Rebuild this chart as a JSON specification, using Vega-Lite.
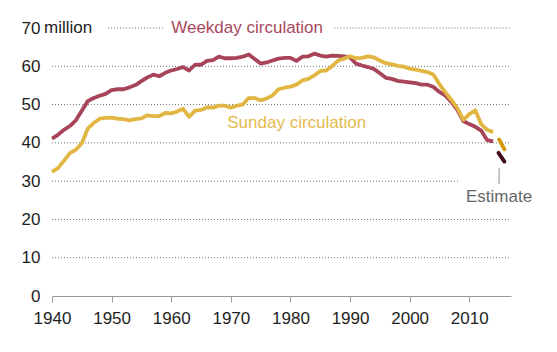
{
  "$schema": "https://vega.github.io/schema/vega-lite/v6.json",
  "width": 459,
  "height": 268,
  "autosize": "none",
  "padding": {"left": 52, "top": 28, "right": 46, "bottom": 56},
  "background": "white",
  "config": {
    "view": {"stroke": null},
    "font": "Liberation Sans",
    "axisX": {"domainColor": "#9a9a9a", "tickColor": "#9a9a9a", "tickSize": 6, "labelFont": "Liberation Sans", "labelFontSize": 17, "labelColor": "#1e1e1e", "labelPadding": 8, "labelOverlap": false, "labelFlush": false, "grid": false, "title": null},
    "axisY": {"domain": false, "ticks": false, "tickSize": 0, "labelFont": "Liberation Sans", "labelFontSize": 17, "labelColor": "#1e1e1e", "labelPadding": 12, "labelOverlap": false, "labelFlush": false, "grid": false, "title": null}
  },
  "datasets": {
    "circ": [
      {"year": 1940, "weekday": 41.1, "sunday": 32.4},
      {"year": 1941, "weekday": 42.1, "sunday": 33.4},
      {"year": 1942, "weekday": 43.4, "sunday": 35.3},
      {"year": 1943, "weekday": 44.4, "sunday": 37.3},
      {"year": 1944, "weekday": 45.9, "sunday": 38.2},
      {"year": 1945, "weekday": 48.4, "sunday": 39.9},
      {"year": 1946, "weekday": 50.9, "sunday": 43.7},
      {"year": 1947, "weekday": 51.7, "sunday": 45.2},
      {"year": 1948, "weekday": 52.3, "sunday": 46.3},
      {"year": 1949, "weekday": 52.8, "sunday": 46.5},
      {"year": 1950, "weekday": 53.8, "sunday": 46.6},
      {"year": 1951, "weekday": 54.0, "sunday": 46.3},
      {"year": 1952, "weekday": 54.0, "sunday": 46.2},
      {"year": 1953, "weekday": 54.5, "sunday": 45.9},
      {"year": 1954, "weekday": 55.1, "sunday": 46.2},
      {"year": 1955, "weekday": 56.1, "sunday": 46.4},
      {"year": 1956, "weekday": 57.1, "sunday": 47.2},
      {"year": 1957, "weekday": 57.8, "sunday": 47.0},
      {"year": 1958, "weekday": 57.4, "sunday": 47.0},
      {"year": 1959, "weekday": 58.3, "sunday": 47.8},
      {"year": 1960, "weekday": 58.9, "sunday": 47.7},
      {"year": 1961, "weekday": 59.3, "sunday": 48.2},
      {"year": 1962, "weekday": 59.8, "sunday": 48.9},
      {"year": 1963, "weekday": 58.9, "sunday": 46.8},
      {"year": 1964, "weekday": 60.4, "sunday": 48.4},
      {"year": 1965, "weekday": 60.4, "sunday": 48.6},
      {"year": 1966, "weekday": 61.4, "sunday": 49.3},
      {"year": 1967, "weekday": 61.6, "sunday": 49.2},
      {"year": 1968, "weekday": 62.5, "sunday": 49.7},
      {"year": 1969, "weekday": 62.1, "sunday": 49.7},
      {"year": 1970, "weekday": 62.1, "sunday": 49.2},
      {"year": 1971, "weekday": 62.2, "sunday": 49.7},
      {"year": 1972, "weekday": 62.5, "sunday": 50.0},
      {"year": 1973, "weekday": 63.1, "sunday": 51.7},
      {"year": 1974, "weekday": 61.9, "sunday": 51.7},
      {"year": 1975, "weekday": 60.7, "sunday": 51.1},
      {"year": 1976, "weekday": 61.0, "sunday": 51.6},
      {"year": 1977, "weekday": 61.5, "sunday": 52.4},
      {"year": 1978, "weekday": 62.0, "sunday": 54.0},
      {"year": 1979, "weekday": 62.2, "sunday": 54.4},
      {"year": 1980, "weekday": 62.2, "sunday": 54.7},
      {"year": 1981, "weekday": 61.4, "sunday": 55.2},
      {"year": 1982, "weekday": 62.5, "sunday": 56.3},
      {"year": 1983, "weekday": 62.6, "sunday": 56.7},
      {"year": 1984, "weekday": 63.3, "sunday": 57.6},
      {"year": 1985, "weekday": 62.8, "sunday": 58.8},
      {"year": 1986, "weekday": 62.5, "sunday": 58.9},
      {"year": 1987, "weekday": 62.8, "sunday": 60.1},
      {"year": 1988, "weekday": 62.7, "sunday": 61.5},
      {"year": 1989, "weekday": 62.6, "sunday": 62.0},
      {"year": 1990, "weekday": 62.3, "sunday": 62.6},
      {"year": 1991, "weekday": 60.7, "sunday": 62.1},
      {"year": 1992, "weekday": 60.2, "sunday": 62.2},
      {"year": 1993, "weekday": 59.8, "sunday": 62.6},
      {"year": 1994, "weekday": 59.3, "sunday": 62.3},
      {"year": 1995, "weekday": 58.2, "sunday": 61.5},
      {"year": 1996, "weekday": 57.0, "sunday": 60.8},
      {"year": 1997, "weekday": 56.7, "sunday": 60.5},
      {"year": 1998, "weekday": 56.2, "sunday": 60.1},
      {"year": 1999, "weekday": 56.0, "sunday": 59.9},
      {"year": 2000, "weekday": 55.8, "sunday": 59.4},
      {"year": 2001, "weekday": 55.6, "sunday": 59.1},
      {"year": 2002, "weekday": 55.2, "sunday": 58.8},
      {"year": 2003, "weekday": 55.2, "sunday": 58.5},
      {"year": 2004, "weekday": 54.6, "sunday": 57.8},
      {"year": 2005, "weekday": 53.3, "sunday": 55.3},
      {"year": 2006, "weekday": 52.3, "sunday": 53.2},
      {"year": 2007, "weekday": 50.7, "sunday": 51.2},
      {"year": 2008, "weekday": 48.6, "sunday": 49.1},
      {"year": 2009, "weekday": 45.7, "sunday": 46.0},
      {"year": 2010, "weekday": 44.9, "sunday": 47.5},
      {"year": 2011, "weekday": 44.2, "sunday": 48.5},
      {"year": 2012, "weekday": 43.2, "sunday": 44.9},
      {"year": 2013, "weekday": 40.7, "sunday": 43.4},
      {"year": 2014, "weekday": 40.4, "sunday": 42.8}
    ],
    "grid": [
      {"y": 10, "x1": 1940, "x2": 2017},
      {"y": 20, "x1": 1940, "x2": 2017},
      {"y": 30, "x1": 1940, "x2": 2008.4},
      {"y": 40, "x1": 1940, "x2": 2017},
      {"y": 50, "x1": 1940, "x2": 2017},
      {"y": 60, "x1": 1940, "x2": 2017},
      {"y": 70, "x1": 1949.4, "x2": 1958.6},
      {"y": 70, "x1": 1987.4, "x2": 2017}
    ],
    "est": [
      {"series": "Sunday", "year": 2015.0, "value": 40.9},
      {"series": "Sunday", "year": 2015.9, "value": 38.3},
      {"series": "Weekday", "year": 2014.9, "value": 37.4},
      {"series": "Weekday", "year": 2015.9, "value": 35.1}
    ],
    "labels": [
      {"label": "million", "year": 1940, "value": 70},
      {"label": "Weekday circulation", "year": 1960, "value": 70},
      {"label": "Sunday circulation", "year": 1969.4, "value": 45.1},
      {"label": "Estimate", "year": 2015, "value": 25.9}
    ],
    "estTick": [
      {"year": 2015, "y1": 29.2, "y2": 33.4}
    ]
  },
  "layer": [
    {
      "data": {"name": "grid"},
      "mark": {"type": "rule", "color": "#6e6e6e", "strokeWidth": 1, "strokeDash": [1, 2]},
      "encoding": {
        "x": {"field": "x1", "type": "quantitative", "title": null,
              "scale": {"domain": [1940, 2017], "nice": false, "zero": false},
              "axis": {"values": [1940, 1945, 1950, 1955, 1960, 1965, 1970, 1975, 1980, 1985, 1990, 1995, 2000, 2005, 2010, 2015],
                       "labelExpr": "datum.value % 10 == 0 ? datum.value : ''", "format": "d"}},
        "x2": {"field": "x2"},
        "y": {"field": "y", "type": "quantitative", "title": null,
              "scale": {"domain": [0, 70], "nice": false},
              "axis": {"values": [0, 10, 20, 30, 40, 50, 60, 70], "tickCount": 8, "labelOverlap": false, "labelBound": false, "labelFlush": false}}
      }
    },
    {
      "data": {"name": "circ"},
      "mark": {"type": "line", "color": "#a8445a", "strokeWidth": 3.8, "strokeJoin": "round"},
      "encoding": {
        "x": {"field": "year", "type": "quantitative", "title": null},
        "y": {"field": "weekday", "type": "quantitative", "title": null}
      }
    },
    {
      "data": {"name": "circ"},
      "mark": {"type": "line", "color": "#e2b643", "strokeWidth": 3.8, "strokeJoin": "round"},
      "encoding": {
        "x": {"field": "year", "type": "quantitative", "title": null},
        "y": {"field": "sunday", "type": "quantitative", "title": null}
      }
    },
    {
      "data": {"name": "est"},
      "transform": [{"filter": "datum.series == 'Sunday'"}],
      "mark": {"type": "line", "color": "#d49a08", "strokeWidth": 3.8, "strokeCap": "round"},
      "encoding": {
        "x": {"field": "year", "type": "quantitative", "title": null},
        "y": {"field": "value", "type": "quantitative", "title": null}
      }
    },
    {
      "data": {"name": "est"},
      "transform": [{"filter": "datum.series == 'Weekday'"}],
      "mark": {"type": "line", "color": "#420818", "strokeWidth": 3.8, "strokeCap": "round"},
      "encoding": {
        "x": {"field": "year", "type": "quantitative", "title": null},
        "y": {"field": "value", "type": "quantitative", "title": null}
      }
    },
    {
      "data": {"name": "estTick"},
      "mark": {"type": "rule", "color": "#8a8a8a", "strokeWidth": 1},
      "encoding": {
        "x": {"field": "year", "type": "quantitative", "title": null},
        "y": {"field": "y1", "type": "quantitative", "title": null},
        "y2": {"field": "y2"}
      }
    },
    {
      "data": {"name": "labels"},
      "transform": [{"filter": "datum.label == 'million'"}],
      "mark": {"type": "text", "align": "left", "baseline": "middle", "dx": -8, "fontSize": 17, "font": "Liberation Sans", "color": "#1e1e1e"},
      "encoding": {
        "x": {"field": "year", "type": "quantitative", "title": null},
        "y": {"field": "value", "type": "quantitative", "title": null},
        "text": {"field": "label"}
      }
    },
    {
      "data": {"name": "labels"},
      "transform": [{"filter": "datum.label == 'Weekday circulation'"}],
      "mark": {"type": "text", "align": "left", "baseline": "middle", "fontSize": 17, "font": "Liberation Sans", "color": "#a8485c"},
      "encoding": {
        "x": {"field": "year", "type": "quantitative", "title": null},
        "y": {"field": "value", "type": "quantitative", "title": null},
        "text": {"field": "label"}
      }
    },
    {
      "data": {"name": "labels"},
      "transform": [{"filter": "datum.label == 'Sunday circulation'"}],
      "mark": {"type": "text", "align": "left", "baseline": "middle", "fontSize": 17, "font": "Liberation Sans", "color": "#e4ba4c"},
      "encoding": {
        "x": {"field": "year", "type": "quantitative", "title": null},
        "y": {"field": "value", "type": "quantitative", "title": null},
        "text": {"field": "label"}
      }
    },
    {
      "data": {"name": "labels"},
      "transform": [{"filter": "datum.label == 'Estimate'"}],
      "mark": {"type": "text", "align": "center", "baseline": "middle", "fontSize": 17, "font": "Liberation Sans", "color": "#666666"},
      "encoding": {
        "x": {"field": "year", "type": "quantitative", "title": null},
        "y": {"field": "value", "type": "quantitative", "title": null},
        "text": {"field": "label"}
      }
    }
  ]
}
